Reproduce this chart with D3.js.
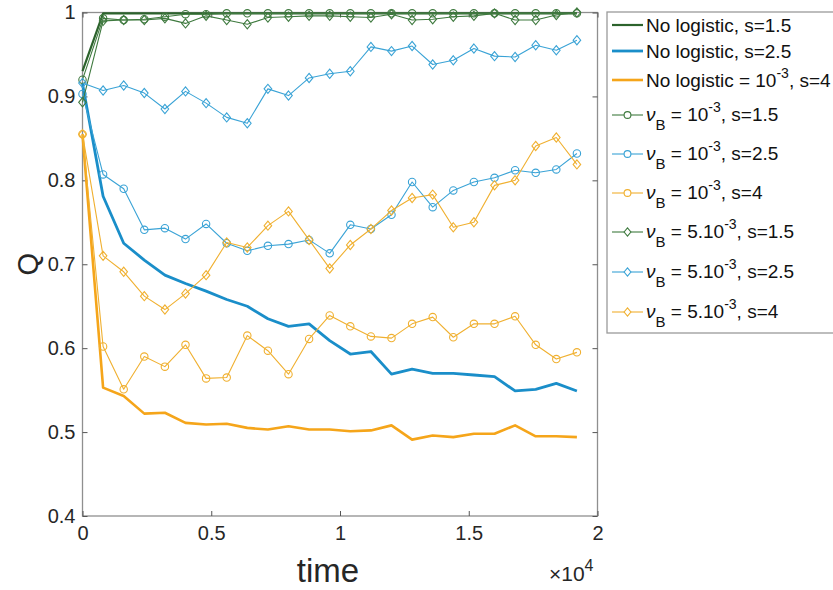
<!DOCTYPE html>
<html><head><meta charset="utf-8">
<script src="https://cdn.jsdelivr.net/npm/d3@7"></script>
<style>body{margin:0;background:#fff}svg{display:block}text{font-family:"Liberation Sans",Arial,sans-serif}</style>
</head><body><svg id="c" width="833" height="590"></svg>
<script>
const time = [0,800,1600,2400,3200,4000,4800,5600,6400,7200,8000,8800,9600,10400,11200,12000,12800,13600,14400,15200,16000,16800,17600,18400,19200];
const noLog15 = [0.930,0.999,0.999,0.999,0.999,0.999,0.999,0.999,0.999,0.999,0.999,0.999,0.999,0.999,0.999,0.999,0.999,0.999,0.999,0.999,0.999,0.999,0.999,0.999,0.999];
const noLog25 = [0.915,0.781,0.725,0.705,0.687,0.677,0.668,0.658,0.650,0.635,0.626,0.629,0.609,0.593,0.596,0.569,0.575,0.570,0.570,0.568,0.566,0.549,0.551,0.558,0.549];
const noLog4 = [0.855,0.553,0.543,0.522,0.523,0.511,0.509,0.510,0.505,0.503,0.507,0.503,0.503,0.501,0.502,0.508,0.491,0.496,0.494,0.498,0.498,0.508,0.495,0.495,0.494];
const nu1s15 = [0.920,0.993,0.991,0.992,0.995,0.998,0.998,0.999,0.999,0.999,0.999,0.999,0.999,0.999,0.999,0.999,0.999,0.999,0.999,0.999,0.999,0.999,0.999,0.999,0.999];
const nu1s25 = [0.903,0.807,0.790,0.741,0.743,0.730,0.748,0.725,0.716,0.722,0.724,0.729,0.713,0.747,0.742,0.759,0.798,0.768,0.788,0.798,0.803,0.812,0.809,0.813,0.832];
const nu1s4 = [0.855,0.602,0.551,0.590,0.578,0.604,0.564,0.565,0.615,0.597,0.569,0.611,0.639,0.626,0.614,0.612,0.629,0.637,0.613,0.629,0.629,0.638,0.604,0.587,0.595];
const nu5s15 = [0.893,0.990,0.991,0.991,0.993,0.987,0.996,0.991,0.986,0.994,0.995,0.996,0.996,0.995,0.994,0.998,0.991,0.992,0.995,0.996,0.999,0.991,0.991,0.997,1.000];
const nu5s25 = [0.916,0.907,0.913,0.904,0.885,0.906,0.892,0.875,0.868,0.909,0.901,0.922,0.927,0.930,0.959,0.954,0.960,0.938,0.943,0.957,0.948,0.947,0.961,0.955,0.967];
const nu5s4 = [0.855,0.710,0.691,0.662,0.646,0.665,0.687,0.726,0.720,0.746,0.763,0.729,0.695,0.723,0.742,0.764,0.779,0.783,0.744,0.750,0.794,0.800,0.841,0.851,0.819];
const xTicks = [0,5000,10000,15000,20000];
const xTickLabels = ["0","0.5","1","1.5","2"];
const yTicks = [0.4,0.5,0.6,0.7,0.8,0.9,1];
const yTickLabels = ["0.4","0.5","0.6","0.7","0.8","0.9","1"];

const G="#2c632c", Gm="#3f7a3f", B="#1a8ec9", Bm="#3aa3d6", O="#f5a51a", Om="#f0b030";
const series = [
  {v:noLog15, c:G, w:2.2, m:null, label:[{t:"No logistic, s=1.5"}]},
  {v:noLog25, c:B, w:2.8, m:null, label:[{t:"No logistic, s=2.5"}]},
  {v:noLog4, c:O, w:2.6, m:null, label:[{t:"No logistic = 10"},{t:"-3",sup:1},{t:", s=4"}]},
  {v:nu1s15, c:Gm, w:1.1, m:"o", label:"nu", p:"10", s:"1.5"},
  {v:nu1s25, c:Bm, w:1.1, m:"o", label:"nu", p:"10", s:"2.5"},
  {v:nu1s4, c:Om, w:1.1, m:"o", label:"nu", p:"10", s:"4"},
  {v:nu5s15, c:Gm, w:1.1, m:"d", label:"nu", p:"5.10", s:"1.5"},
  {v:nu5s25, c:Bm, w:1.1, m:"d", label:"nu", p:"5.10", s:"2.5"},
  {v:nu5s4, c:Om, w:1.1, m:"d", label:"nu", p:"5.10", s:"4"}
];

const svg = d3.select("#c");
const L=82.5, R=597.5, T=12.5, Bt=516;
const x = d3.scaleLinear().domain([0,20000]).range([L,R]);
const y = d3.scaleLinear().domain([0.4,1]).range([Bt,T]);

svg.append("rect").attr("x",L).attr("y",T).attr("width",R-L).attr("height",Bt-T)
  .attr("fill","none").attr("stroke","#8f8f8f").attr("stroke-width",1.3);

const tc="#262626";
const ax = (g)=>{g.select(".domain").remove(); g.selectAll(".tick line").attr("stroke","#555").attr("stroke-width",1);
  g.selectAll("text").attr("fill",tc).style("font-size","20px").style("font-family","Liberation Sans, Arial, sans-serif");};
svg.append("g").attr("transform",`translate(${L},0)`)
  .call(d3.axisLeft(y).tickValues(yTicks).tickFormat((d,i)=>yTickLabels[i]).tickSize(-5).tickPadding(7)).call(ax);
svg.append("g").attr("transform",`translate(${R},0)`)
  .call(d3.axisRight(y).tickValues(yTicks).tickFormat("").tickSize(-5)).call(ax);
svg.append("g").attr("transform",`translate(0,${Bt})`)
  .call(d3.axisBottom(x).tickValues(xTicks).tickFormat((d,i)=>xTickLabels[i]).tickSize(-5).tickPadding(10)).call(ax);
svg.append("g").attr("transform",`translate(0,${T})`)
  .call(d3.axisTop(x).tickValues(xTicks).tickFormat("").tickSize(-5)).call(ax);

const line = d3.line().x((d,i)=>x(time[i])).y(d=>y(d));
const diamond = (cx,cy,hw,hh)=>`M${cx},${cy-hh}L${cx+hw},${cy}L${cx},${cy+hh}L${cx-hw},${cy}Z`;
const plot = svg.append("g");
series.forEach(s=>{
  plot.append("path").datum(s.v).attr("d",line).attr("fill","none").attr("stroke",s.c)
    .attr("stroke-width",s.w).attr("stroke-linejoin","round");
  if(s.m==="o"){
    plot.append("g").selectAll("circle").data(s.v).join("circle")
      .attr("cx",(d,i)=>x(time[i])).attr("cy",d=>y(d)).attr("r",3.7)
      .attr("fill","none").attr("stroke",s.c).attr("stroke-width",1.1);
  } else if(s.m==="d"){
    plot.append("g").selectAll("path").data(s.v).join("path")
      .attr("d",(d,i)=>diamond(x(time[i]),y(d),3.8,4.6))
      .attr("fill","none").attr("stroke",s.c).attr("stroke-width",1.1);
  }
});

svg.append("text").attr("x",328).attr("y",582).attr("text-anchor","middle")
  .attr("fill",tc).style("font-size","33px").text("time");
const e4 = svg.append("text").attr("x",R-4).attr("y",581).attr("text-anchor","end").attr("fill",tc).style("font-size","21px");
e4.append("tspan").text("\u00d710");
e4.append("tspan").attr("dy",-10).style("font-size","16px").text("4");
svg.append("text").attr("transform",`translate(38,${(T+Bt)/2}) rotate(-90)`).attr("text-anchor","middle")
  .attr("fill",tc).style("font-size","29px").text("Q");

const lg = svg.append("g");
lg.append("rect").attr("x",607).attr("y",12).attr("width",240).attr("height",321)
  .attr("fill","#fff").attr("stroke","#9a9a9a").attr("stroke-width",1.3);
const ly = [25,51,80,115,154,193,232,272,312];
series.forEach((s,i)=>{
  const yy = ly[i];
  lg.append("line").attr("x1",612).attr("x2",643).attr("y1",yy).attr("y2",yy).attr("stroke",s.c).attr("stroke-width",s.m?1.1:s.w);
  if(s.m==="o") lg.append("circle").attr("cx",627.5).attr("cy",yy).attr("r",3.4).attr("fill","#fff").attr("stroke",s.c).attr("stroke-width",1.1);
  if(s.m==="d") lg.append("path").attr("d",diamond(627.5,yy,3.4,4.2)).attr("fill","#fff").attr("stroke",s.c).attr("stroke-width",1.1);
  const t = lg.append("text").attr("x",646).attr("y",yy+7).attr("fill","#111").style("font-size","19px");
  if(s.label==="nu"){
    t.attr("y",yy+6);
    t.append("tspan").style("font-style","italic").text("\u03bd");
    t.append("tspan").attr("dy",9).style("font-size","15px").text("B");
    t.append("tspan").attr("dy",-9).text(" = "+s.p);
    t.append("tspan").attr("dy",-9).style("font-size","14px").text("-3");
    t.append("tspan").attr("dy",9).text(", s="+s.s);
  } else {
    s.label.forEach(p=>{
      if(p.sup){ t.append("tspan").attr("dy",-9).style("font-size","14px").text(p.t); }
      else { const sp=t.append("tspan").text(p.t); if(t.node().childNodes.length>1 && p.t.startsWith(",")) sp.attr("dy",9); }
    });
  }
});
</script></body></html>
